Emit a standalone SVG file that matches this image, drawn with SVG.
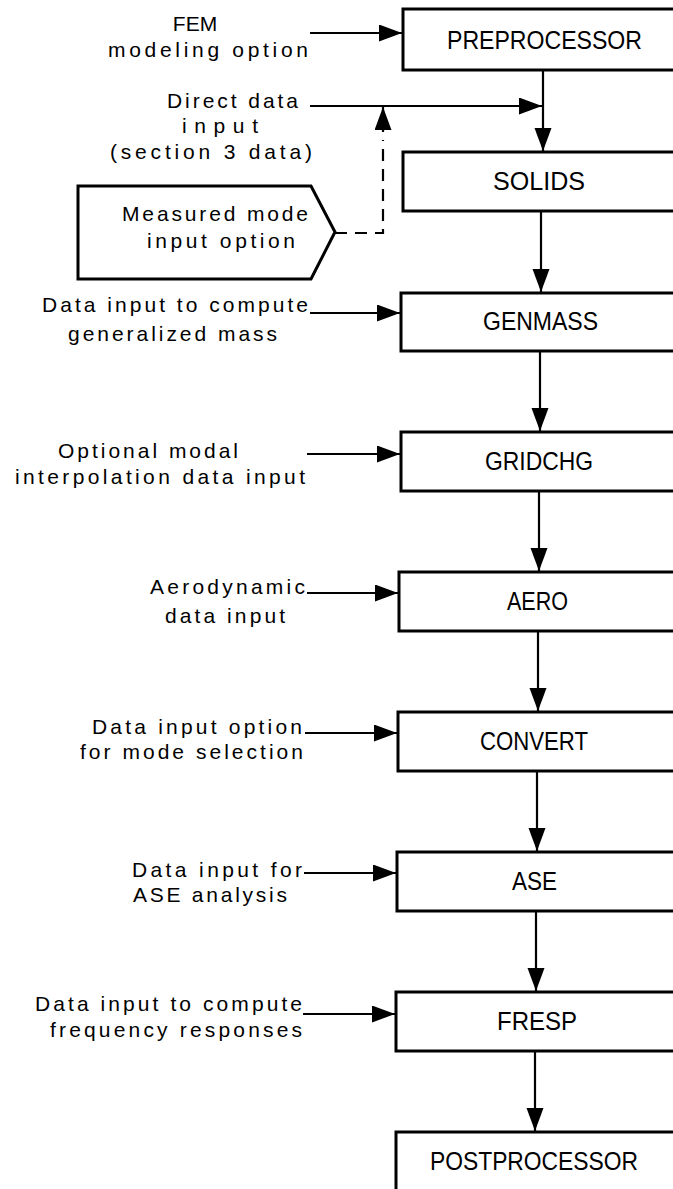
<svg xmlns="http://www.w3.org/2000/svg" width="673" height="1189" viewBox="0 0 673 1189">
<style>
  .box { fill: #fff; stroke: #000; stroke-width: 3; }
  .lbl { font-family: "Liberation Sans", Arial, Helvetica, sans-serif; font-size: 25px; fill: #000; }
  .txt { font-family: "Liberation Sans", Arial, Helvetica, sans-serif; font-size: 21px; fill: #000; }
  .conn { fill: none; stroke: #000; stroke-width: 2.2; }
  .dash { fill: none; stroke: #000; stroke-width: 2.2; stroke-dasharray: 12 8; }
  .pent { fill: #fff; stroke: #000; stroke-width: 3; }
</style>
<defs>
  <marker id="ah" markerUnits="userSpaceOnUse" markerWidth="26" markerHeight="20" refX="23" refY="8.5" orient="auto">
    <path d="M0,0 L23,8.5 L0,17 Z" fill="#000" stroke="none"/>
  </marker>
</defs>
<rect width="673" height="1189" fill="#fff"/>

<g id="connectors">
  <path class="conn" d="M310,33 L402,33" marker-end="url(#ah)"/>
  <path class="conn" d="M543,70 L543,151" marker-end="url(#ah)"/>
  <path class="conn" d="M310,106 L542,106" marker-end="url(#ah)"/>
  <path class="dash" d="M335,233 L383,233 L383,140"/>
  <path class="conn" d="M383,132 L383,107" marker-end="url(#ah)"/>
  <path class="conn" d="M541,211 L541,292" marker-end="url(#ah)"/>
  <path class="conn" d="M310,313 L400,313" marker-end="url(#ah)"/>
  <path class="conn" d="M540,351 L540,431" marker-end="url(#ah)"/>
  <path class="conn" d="M307,454 L400,454" marker-end="url(#ah)"/>
  <path class="conn" d="M539,491 L539,571" marker-end="url(#ah)"/>
  <path class="conn" d="M307,593 L398,593" marker-end="url(#ah)"/>
  <path class="conn" d="M538,631 L538,711" marker-end="url(#ah)"/>
  <path class="conn" d="M305,733 L397,733" marker-end="url(#ah)"/>
  <path class="conn" d="M537,771 L537,851" marker-end="url(#ah)"/>
  <path class="conn" d="M304,873 L396,873" marker-end="url(#ah)"/>
  <path class="conn" d="M536,911 L536,991" marker-end="url(#ah)"/>
  <path class="conn" d="M303,1014 L395,1014" marker-end="url(#ah)"/>
  <path class="conn" d="M535,1051 L535,1131" marker-end="url(#ah)"/>
</g>

<g id="preprocessor">
  <rect class="box" x="403" y="9" width="280" height="61"/>
  <text class="lbl" x="447" y="49" textLength="195" lengthAdjust="spacingAndGlyphs">PREPROCESSOR</text>
</g>
<g id="solids">
  <rect class="box" x="403" y="152" width="280" height="59"/>
  <text class="lbl" x="493" y="190" textLength="92" lengthAdjust="spacingAndGlyphs">SOLIDS</text>
</g>
<g id="genmass">
  <rect class="box" x="401" y="293" width="282" height="58"/>
  <text class="lbl" x="483" y="330" textLength="115" lengthAdjust="spacingAndGlyphs">GENMASS</text>
</g>
<g id="gridchg">
  <rect class="box" x="401" y="432" width="282" height="59"/>
  <text class="lbl" x="485" y="470" textLength="108" lengthAdjust="spacingAndGlyphs">GRIDCHG</text>
</g>
<g id="aero">
  <rect class="box" x="399" y="572" width="284" height="59"/>
  <text class="lbl" x="507" y="610" textLength="61" lengthAdjust="spacingAndGlyphs">AERO</text>
</g>
<g id="convert">
  <rect class="box" x="398" y="712" width="285" height="59"/>
  <text class="lbl" x="480" y="750" textLength="108" lengthAdjust="spacingAndGlyphs">CONVERT</text>
</g>
<g id="ase">
  <rect class="box" x="397" y="852" width="286" height="59"/>
  <text class="lbl" x="512" y="890" textLength="45" lengthAdjust="spacingAndGlyphs">ASE</text>
</g>
<g id="fresp">
  <rect class="box" x="396" y="992" width="287" height="59"/>
  <text class="lbl" x="497" y="1030" textLength="80" lengthAdjust="spacingAndGlyphs">FRESP</text>
</g>
<g id="postprocessor">
  <rect class="box" x="396" y="1132" width="287" height="70"/>
  <text class="lbl" x="430" y="1170" textLength="208" lengthAdjust="spacingAndGlyphs">POSTPROCESSOR</text>
</g>

<g id="measured-mode">
  <path class="pent" d="M78,186 L311,186 L335,232 L311,279 L78,279 Z"/>
  <text class="txt" x="122" y="221" textLength="186" lengthAdjust="spacing">Measured mode</text>
  <text class="txt" x="147" y="248" textLength="148" lengthAdjust="spacing">input  option</text>
</g>

<g id="input-labels">
  <text class="txt" x="195" y="31" text-anchor="middle">FEM</text>
  <text class="txt" x="108" y="57" textLength="200" lengthAdjust="spacing">modeling option</text>
  <text class="txt" x="167" y="108" textLength="131" lengthAdjust="spacing">Direct data</text>
  <text class="txt" x="182" y="133" textLength="76" lengthAdjust="spacing">input</text>
  <text class="txt" x="110" y="159" textLength="202" lengthAdjust="spacing">(section 3 data)</text>
  <text class="txt" x="42" y="312" textLength="266" lengthAdjust="spacing">Data input to compute</text>
  <text class="txt" x="68" y="341" textLength="209" lengthAdjust="spacing">generalized mass</text>
  <text class="txt" x="58" y="458" textLength="180" lengthAdjust="spacing">Optional modal</text>
  <text class="txt" x="15" y="484" textLength="290" lengthAdjust="spacing">interpolation data input</text>
  <text class="txt" x="150" y="594" textLength="155" lengthAdjust="spacing">Aerodynamic</text>
  <text class="txt" x="165" y="623" textLength="120" lengthAdjust="spacing">data input</text>
  <text class="txt" x="92" y="734" textLength="210" lengthAdjust="spacing">Data input option</text>
  <text class="txt" x="80" y="759" textLength="223" lengthAdjust="spacing">for mode selection</text>
  <text class="txt" x="132" y="877" textLength="170" lengthAdjust="spacing">Data input for</text>
  <text class="txt" x="133" y="902" textLength="154" lengthAdjust="spacing">ASE analysis</text>
  <text class="txt" x="35" y="1011" textLength="267" lengthAdjust="spacing">Data input to compute</text>
  <text class="txt" x="50" y="1037" textLength="252" lengthAdjust="spacing">frequency responses</text>
</g>
</svg>
